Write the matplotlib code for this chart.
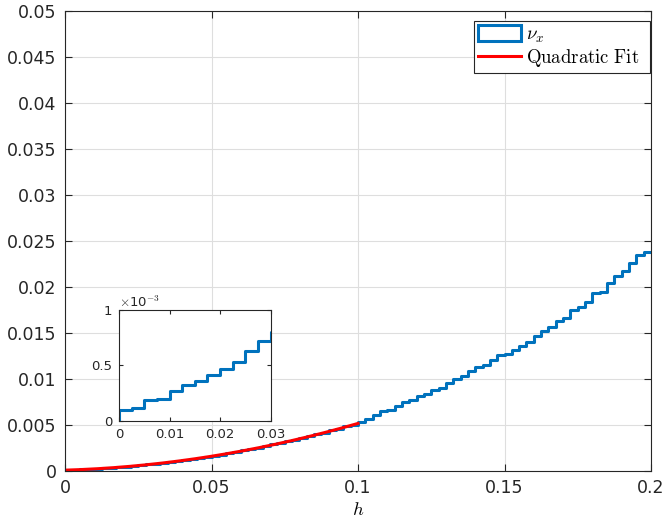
import matplotlib
matplotlib.use("Agg")
import matplotlib.pyplot as plt
from matplotlib.patches import Patch
from matplotlib.lines import Line2D
import numpy as np

plt.rcParams['font.family'] = ['DejaVu Sans']
plt.rcParams['mathtext.fontset'] = 'cm'

# ширина ступеньки по h
step = 0.0025
# значения nu_x на каждой ступеньке (h от 0 до 0.2)
nu_x = [
    0.00010, 0.000116, 0.000188, 0.000197, 0.000266, 0.000325, 0.000361, 0.000412,
    0.000469, 0.000531, 0.000624, 0.000713,
    0.00080, 0.00088, 0.00100, 0.00107, 0.00120, 0.00129, 0.00143, 0.00153,
    0.00168, 0.00179, 0.00195, 0.00207, 0.00224, 0.00237, 0.00255, 0.00269,
    0.00289, 0.00303, 0.00323, 0.00339, 0.00361, 0.00377, 0.00400, 0.00418,
    0.00442, 0.00460, 0.00485, 0.00505,
    0.00529, 0.00569, 0.00612, 0.00649, 0.00663, 0.00703, 0.00747, 0.00768,
    0.00818, 0.00837, 0.00880, 0.00899, 0.00960, 0.01000, 0.01033, 0.01087,
    0.01127, 0.01156, 0.01207, 0.01261,
    0.01272, 0.01315, 0.01359, 0.01406, 0.01467, 0.01525, 0.01569, 0.01627,
    0.01667, 0.01750, 0.01786, 0.01840, 0.01931, 0.01942, 0.02047, 0.02120,
    0.02174, 0.02257, 0.02344, 0.02384,
]
fit_max = 0.1

xticks = [0, 0.05, 0.1, 0.15, 0.2]
xtick_labels = ['0', '0.05', '0.1', '0.15', '0.2']
yticks = [0, 0.005, 0.01, 0.015, 0.02, 0.025, 0.03, 0.035, 0.04, 0.045, 0.05]
ytick_labels = ['0', '0.005', '0.01', '0.015', '0.02', '0.025', '0.03',
                '0.035', '0.04', '0.045', '0.05']

nu_x = np.array(nu_x)
edges = np.arange(len(nu_x) + 1) * step
x_st = np.r_[0, edges]
y_st = np.r_[0, nu_x, nu_x[-1]]

# квадратичная аппроксимация на участке h <= 0.1
mids = edges[:-1] + step / 2
mask = mids <= fit_max
coef = np.polyfit(mids[mask], nu_x[mask], 2)
h_fit = np.linspace(0, fit_max, 200)

blue = '#0072BD'
axc = '#262626'

fig = plt.figure(figsize=(6.66, 5.18), dpi=100)
ax = fig.add_axes([0.0976, 0.0907, 0.8799, 0.888])
ax.step(x_st, y_st, where='post', color=blue, lw=2.2)
ax.plot(h_fit, np.polyval(coef, h_fit), color='r', lw=2.2)
ax.set_xlim(0, 0.2)
ax.set_ylim(0, 0.05)
ax.set_xticks(xticks, labels=xtick_labels)
ax.set_yticks(yticks, labels=ytick_labels)
ax.grid(True, color='#dedede', lw=0.8)
ax.set_axisbelow(True)
ax.tick_params(direction='in', top=True, right=True, labelsize=12.5, colors=axc,
               length=5, width=0.8, pad=6)
for s in ax.spines.values():
    s.set_color(axc)
    s.set_linewidth(0.8)
ax.set_xlabel('$h$', fontsize=13.5, va='top')
ax.xaxis.set_label_coords(0.5, -0.062)

handles = [Patch(facecolor='none', edgecolor=blue, lw=2.2),
           Line2D([], [], color='r', lw=2.2)]
leg = ax.legend(handles, [r'$\nu_x$', r'$\mathrm{Quadratic\ Fit}$' + '  '],
                loc='upper right', bbox_to_anchor=(0.9985, 0.979), borderaxespad=0,
                fontsize=13.5, fancybox=False, framealpha=1, edgecolor=axc,
                handlelength=2.3, handletextpad=0.25, handleheight=0.9,
                borderpad=0.2, labelspacing=0.15)
leg.get_frame().set_linewidth(0.8)

# вставка
ins = fig.add_axes([0.1787, 0.1873, 0.2275, 0.2152])
ins.step(x_st, y_st, where='post', color=blue, lw=2.2)
ins.set_xlim(0, 0.03)
ins.set_ylim(0, 0.001)
ins.set_xticks([0, 0.01, 0.02, 0.03], labels=['0', '0.01', '0.02', '0.03'])
ins.set_yticks([0, 0.0005, 0.001], labels=['0', '0.5', '1'])
ins.tick_params(direction='in', top=True, right=True, labelsize=9.5, colors=axc,
                length=3, width=0.8, pad=5)
for s in ins.spines.values():
    s.set_color(axc)
    s.set_linewidth(0.8)
ins.text(0.0, 1.0, r'$\times$10$^{-3}$', transform=ins.transAxes, fontsize=9.5,
         color=axc, va='bottom', ha='left', family='DejaVu Sans')

fig.savefig('out.png', dpi=100)
